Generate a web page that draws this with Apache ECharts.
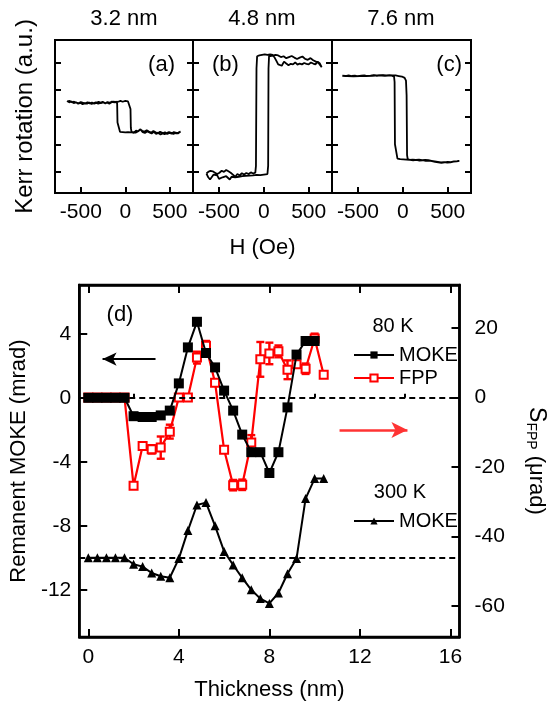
<!DOCTYPE html>
<html>
<head>
<meta charset="utf-8">
<script src="https://cdn.jsdelivr.net/npm/echarts@6/dist/echarts.min.js"></script>
<style>html,body{margin:0;padding:0;background:#fff}#main{width:556px;height:709px}</style>
</head>
<body>
<div id="main"></div>
<script>
var FONT = 'Liberation Sans, Arial, Helvetica, sans-serif';

// ---- top row: hysteresis loops, H (Oe) vs Kerr rotation (a.u.)
var loopTitles = ['3.2 nm', '4.8 nm', '7.6 nm'];
var loopLabels = ['(a)', '(b)', '(c)'];
var hTicks = [-500, 0, 500];
var kerrTicks = [0, 1, 2, 3, 4];

var loopA = [
  [-655,2.6],[-630,2.55],[-605,2.58],[-580,2.52],[-555,2.55],[-530,2.5],[-505,2.53],[-480,2.48],[-455,2.52],[-430,2.5],
  [-405,2.54],[-380,2.49],[-355,2.52],[-330,2.55],[-305,2.5],[-280,2.53],[-255,2.57],[-230,2.52],[-205,2.54],[-180,2.5],
  [-155,2.55],[-130,2.58],[-105,2.55],[-80,2.57],[-55,2.6],[-30,2.57],[0,2.6],[30,2.58],[50,2.56],[58,2.3],[62,1.6],
  [70,1.45],[95,1.42],[120,1.5],[145,1.48],[170,1.55],[195,1.45],[220,1.42],[245,1.47],[270,1.44],[295,1.4],[320,1.46],
  [345,1.38],[370,1.43],[395,1.36],[420,1.4],[445,1.44],[470,1.38],[495,1.42],[520,1.39],[545,1.45],[570,1.4],[595,1.43],
  [620,1.47],[640,1.41],
  [615,1.44],[590,1.4],[565,1.43],[540,1.38],[515,1.42],[490,1.45],[465,1.41],[440,1.37],[415,1.42],[390,1.46],[365,1.4],
  [340,1.44],[315,1.49],[290,1.43],[265,1.47],[240,1.52],[215,1.46],[190,1.5],[165,1.55],[140,1.47],[115,1.43],[90,1.45],
  [60,1.44],[30,1.45],[0,1.44],[-30,1.45],[-60,1.46],[-80,1.5],[-88,1.8],[-92,2.5],[-100,2.58],[-125,2.55],[-150,2.58],
  [-175,2.53],[-200,2.56],[-225,2.51],[-250,2.55],[-275,2.52],[-300,2.57],[-325,2.53],[-350,2.5],[-375,2.54],[-400,2.51],
  [-425,2.55],[-450,2.5],[-475,2.53],[-500,2.56],[-525,2.51],[-550,2.54],[-575,2.57],[-600,2.55],[-625,2.6],[-650,2.58]
];
var loopB = [
  [-640,-0.08],[-620,-0.22],[-600,-0.3],[-580,-0.25],[-560,-0.12],[-540,-0.05],[-520,-0.15],[-500,-0.28],[-480,-0.33],
  [-460,-0.22],[-440,-0.15],[-420,-0.18],[-400,-0.25],[-380,-0.3],[-360,-0.2],[-340,-0.18],[-320,-0.22],[-300,-0.17],
  [-280,-0.2],[-260,-0.15],[-240,-0.18],[-220,-0.14],[-200,-0.17],[-180,-0.13],[-160,-0.16],[-140,-0.12],[-120,-0.15],
  [-100,-0.11],[-80,-0.13],[-60,-0.1],[-40,-0.14],[-20,-0.1],[0,-0.12],[20,-0.08],[40,-0.1],[48,0.2],[52,3.8],[58,4.25],
  [80,4.3],[100,4.27],[130,4.3],[160,4.28],[190,4.22],[220,4.25],[250,4.18],[280,4.22],[310,4.26],[340,4.2],[370,4.15],
  [400,4.2],[430,4.24],[460,4.15],[490,4.12],[520,4.18],[550,4.1],[580,4.05],[610,4.0],[630,3.95],[645,3.85],
  [625,3.98],[600,4.05],[575,3.95],[550,3.98],[525,4.02],[500,3.95],[475,3.97],[450,4.0],[425,3.95],[400,3.98],[375,3.94],
  [350,4.02],[325,3.95],[300,3.97],[275,3.92],[250,3.98],[225,4.05],[200,3.9],[180,3.85],[160,3.95],[140,4.08],[120,4.2],
  [100,4.3],[70,4.32],[40,4.3],[10,4.32],[-20,4.3],[-50,4.28],[-75,4.25],[-82,3.8],[-88,0.2],[-95,-0.05],[-120,-0.08],
  [-145,-0.04],[-170,-0.1],[-195,-0.06],[-220,-0.12],[-245,-0.07],[-270,-0.15],[-295,-0.1],[-320,-0.2],[-345,-0.12],
  [-370,-0.05],[-395,0.0],[-420,0.05],[-445,-0.02],[-470,0.02],[-495,-0.05],[-520,-0.1],[-545,-0.05],[-570,0.0],
  [-595,0.02],[-620,-0.02],[-640,-0.08]
];
var loopC = [
  [-675,3.53],[-640,3.52],[-605,3.54],[-570,3.52],[-535,3.53],[-500,3.51],[-465,3.53],[-430,3.54],[-395,3.52],[-360,3.53],
  [-325,3.55],[-290,3.53],[-255,3.54],[-220,3.55],[-185,3.54],[-150,3.55],[-115,3.54],[-80,3.54],[-45,3.52],[-10,3.5],
  [20,3.45],[35,3.35],[42,2.8],[47,0.6],[55,0.44],[80,0.42],[115,0.41],[150,0.42],[185,0.4],[220,0.41],[255,0.39],
  [290,0.4],[325,0.38],[360,0.35],[395,0.33],[430,0.31],[465,0.33],[500,0.35],[535,0.34],[570,0.37],[605,0.38],[630,0.39],
  [600,0.37],[565,0.36],[530,0.33],[495,0.32],[460,0.34],[425,0.33],[390,0.35],[355,0.37],[320,0.39],[285,0.41],[250,0.42],
  [215,0.41],[180,0.43],[145,0.42],[110,0.43],[75,0.42],[40,0.43],[5,0.44],[-30,0.45],[-60,0.47],[-80,0.52],[-88,1.0],
  [-92,3.3],[-98,3.5],[-130,3.54],[-200,3.53],[-270,3.54],[-340,3.53],[-410,3.52],[-480,3.52],[-550,3.51],[-620,3.52],[-670,3.52]
];

// ---- bottom panel (d): remanent MOKE / FPP signal vs thickness
var thickness = [0,0.4,0.8,1.2,1.6,2.0,2.4,2.8,3.2,3.6,4.0,4.4,4.8,5.2,5.6,6.0,6.4,6.8,7.2,7.6,8.0,8.4,8.8,9.2,9.6,10.0,10.4];
var moke80 = [0,0,0,0,0,-1.15,-1.2,-1.2,-1.1,-0.8,0.9,3.15,4.75,2.8,1.9,0.45,-0.8,-2.3,-3.4,-3.4,-4.7,-3.4,-0.6,2.7,3.55,3.55];
var fpp80 = [0,0,0,0,0,-25.4,-13.9,-14.9,-14.4,-9.8,0,0,11.5,14.9,4.3,-15.0,-25.2,-25.1,-12.9,11.0,12.7,13.3,8.0,9.6,8.3,17.0,6.6];
var fppErr = [0,0,0,0,0,0.8,0.8,1.2,3.2,2.0,0.6,0.6,1.7,1.4,0.7,0.8,1.5,1.5,2.1,5.0,3.1,1.7,2.7,0.8,1.5,1.4,0.6];
var moke300 = [-10,-10,-10,-10,-10,-10.4,-10.55,-10.95,-11.15,-11.25,-10.05,-8.3,-6.7,-6.55,-8.0,-9.6,-10.45,-11.25,-12.0,-12.55,-12.85,-12.2,-11.0,-10.05,-6.3,-5.05,-5.05];
var thickTicks = [0, 4, 8, 12, 16];
var thickMinor = [2, 6, 10, 14];
var mokeTicks = [-12, -8, -4, 0, 4];
var fppTicks = [-60, -40, -20, 0, 20];
var zeroLines = [0, -10];
var arrowMoke = [[2.97, 2.42], [0.63, 2.42]];
var arrowFpp = [[11.1, -2.02], [14.1, -2.02]];

var chart = echarts.init(document.getElementById('main'));

var panelLeft = [55, 193, 332];
var panelWidth = [138, 139, 139];
var loops = [loopA, loopB, loopC];

var grids = [], xAxes = [], yAxes = [], series = [];
var frameAxis = { onZero: false, lineStyle: { color: '#000', width: 2 } };

loops.forEach(function (loop, i) {
  grids.push({ left: panelLeft[i], top: 40, width: panelWidth[i], height: 153, show: true, borderColor: '#000', borderWidth: 2 });
  xAxes.push({
    gridIndex: i, type: 'value', min: -790, max: 760, position: 'bottom',
    axisLine: frameAxis, splitLine: { show: false },
    axisTick: { inside: true, length: 6, customValues: hTicks, lineStyle: { color: '#000', width: 2 } },
    axisLabel: { customValues: hTicks, fontSize: 21, fontFamily: FONT, color: '#000', margin: 9 },
    name: i === 1 ? 'H (Oe)' : '', nameLocation: 'middle', nameGap: 44,
    nameTextStyle: { fontSize: 22, fontFamily: FONT, color: '#000' }
  });
  ['left', 'right'].forEach(function (pos) {
    yAxes.push({
      gridIndex: i, type: 'value', min: -0.8, max: 4.85, position: pos,
      axisLine: frameAxis, splitLine: { show: false },
      axisTick: { inside: true, length: 6, customValues: kerrTicks, lineStyle: { color: '#000', width: 2 } },
      axisLabel: { show: false, customValues: kerrTicks },
      name: (i === 0 && pos === 'left') ? 'Kerr rotation (a.u.)' : '',
      nameLocation: 'middle', nameRotate: 90, nameGap: 18,
      nameTextStyle: { fontSize: 24, fontFamily: FONT, color: '#000' }
    });
  });
  series.push({
    type: 'line', xAxisIndex: i, yAxisIndex: 2 * i, data: loop, showSymbol: false,
    lineStyle: { color: '#000', width: 1.8 }, silent: true, animation: false
  });
});

// bottom grid
grids.push({ left: 79, top: 285, width: 389, height: 352, show: true, borderColor: '#000', borderWidth: 2.5 });
var tickStyle = { color: '#000', width: 2 };
xAxes.push({
  gridIndex: 3, type: 'value', min: -0.4, max: 16.4, position: 'bottom',
  axisLine: { onZero: false, lineStyle: { color: '#000', width: 2.5 } }, splitLine: { show: false },
  axisTick: { inside: true, length: 8, customValues: thickTicks, lineStyle: tickStyle },
  axisLabel: { customValues: thickTicks, fontSize: 21, fontFamily: FONT, color: '#000', margin: 10 },
  name: 'Thickness (nm)', nameLocation: 'middle', nameGap: 42,
  nameTextStyle: { fontSize: 22, fontFamily: FONT, color: '#000' }
});
xAxes.push({
  gridIndex: 3, type: 'value', min: -0.4, max: 16.4, position: 'bottom',
  axisLine: { show: false }, splitLine: { show: false },
  axisTick: { inside: true, length: 4, customValues: thickMinor, lineStyle: tickStyle },
  axisLabel: { show: false, customValues: thickMinor }
});
xAxes.push({
  gridIndex: 3, type: 'value', min: -0.4, max: 16.4, position: 'top',
  axisLine: { onZero: false, lineStyle: { color: '#000', width: 2.5 } }, splitLine: { show: false },
  axisTick: { inside: true, length: 8, customValues: thickTicks, lineStyle: tickStyle },
  axisLabel: { show: false, customValues: thickTicks }
});
yAxes.push({
  gridIndex: 3, type: 'value', min: -14.95, max: 7.05, position: 'left',
  axisLine: { onZero: false, lineStyle: { color: '#000', width: 2.5 } }, splitLine: { show: false },
  axisTick: { inside: true, length: 8, customValues: mokeTicks, lineStyle: tickStyle },
  axisLabel: { customValues: mokeTicks, fontSize: 21, fontFamily: FONT, color: '#000', margin: 8 },
  name: 'Remanent MOKE (mrad)', nameLocation: 'middle', nameRotate: 90, nameGap: 45,
  nameTextStyle: { fontSize: 22, fontFamily: FONT, color: '#000' }
});
yAxes.push({
  gridIndex: 3, type: 'value', min: -68.9, max: 32.4, position: 'right',
  axisLine: { onZero: false, lineStyle: { color: '#000', width: 2.5 } }, splitLine: { show: false },
  axisTick: { inside: true, length: 8, customValues: fppTicks, lineStyle: tickStyle },
  axisLabel: { customValues: fppTicks, fontSize: 21, fontFamily: FONT, color: '#000', margin: 15 },
  name: '{s|S}{sub|FPP} (μrad)', nameLocation: 'middle', nameRotate: -90, nameGap: 64,
  nameTextStyle: {
    fontSize: 22, fontFamily: FONT, color: '#000',
    rich: {
      s: { fontSize: 23, fontFamily: FONT, color: '#000', lineHeight: 26 },
      sub: { fontSize: 14, fontFamily: FONT, color: '#000', lineHeight: 14, verticalAlign: 'bottom', padding: [10, 0, 0, 0] }
    }
  }
});

var errData = [];
thickness.forEach(function (t, i) {
  if (fppErr[i] > 0) errData.push([t, fpp80[i] - fppErr[i], fpp80[i] + fppErr[i]]);
});

series.push({
  type: 'custom', xAxisIndex: 3, yAxisIndex: 7, data: errData, silent: true, z: 1,
  encode: { x: 0, y: [1, 2] },
  renderItem: function (params, api) {
    var lo = api.coord([api.value(0), api.value(1)]);
    var hi = api.coord([api.value(0), api.value(2)]);
    var w = 4, st = { stroke: '#f00', lineWidth: 2.4, fill: null };
    return { type: 'group', children: [
      { type: 'line', shape: { x1: lo[0], y1: lo[1], x2: hi[0], y2: hi[1] }, style: st },
      { type: 'line', shape: { x1: lo[0] - w, y1: lo[1], x2: lo[0] + w, y2: lo[1] }, style: st },
      { type: 'line', shape: { x1: hi[0] - w, y1: hi[1], x2: hi[0] + w, y2: hi[1] }, style: st }
    ] };
  }
});
series.push({
  name: 'FPP', type: 'line', xAxisIndex: 3, yAxisIndex: 7, z: 2,
  data: thickness.map(function (t, i) { return [t, fpp80[i]]; }),
  symbol: 'emptyRect', symbolSize: 8, color: '#f00',
  itemStyle: { color: '#f00', borderColor: '#f00', borderWidth: 2 },
  lineStyle: { color: '#f00', width: 2.2 }
});
series.push({
  name: 'MOKE', type: 'line', xAxisIndex: 3, yAxisIndex: 6, z: 10,
  data: moke80.map(function (v, i) { return [thickness[i], v]; }),
  symbol: 'rect', symbolSize: 10, color: '#000',
  itemStyle: { color: '#000' }, lineStyle: { color: '#000', width: 2 },
  markLine: {
    silent: true, symbol: ['none', 'none'], label: { show: false }, animation: false,
    lineStyle: { color: '#000', type: [6, 4], width: 1.8 },
    data: zeroLines.map(function (v) { return { yAxis: v }; }).concat([
      [{ coord: arrowMoke[0], lineStyle: { type: 'solid', width: 2, color: '#000' } },
       { coord: arrowMoke[1], symbol: 'arrow', symbolSize: [10, 14] }],
      [{ coord: arrowFpp[0], lineStyle: { type: 'solid', width: 2.5, color: '#f33' } },
       { coord: arrowFpp[1], symbol: 'arrow', symbolSize: [12, 16] }]
    ])
  }
});
series.push({
  name: 'MOKE ', type: 'line', xAxisIndex: 3, yAxisIndex: 6, z: 10,
  data: moke300.map(function (v, i) { return [thickness[i], v]; }),
  symbol: 'triangle', symbolSize: 9, color: '#000',
  itemStyle: { color: '#000' }, lineStyle: { color: '#000', width: 2 }
});

var txt = function (x, y, s, align, size) {
  return { type: 'text', x: x, y: y, silent: true,
    style: { text: s, fontSize: size || 22, fontFamily: FONT, fill: '#000', align: align || 'center', verticalAlign: 'middle' } };
};
var graphics = [
  txt(124, 19, loopTitles[0]), txt(262, 19, loopTitles[1]), txt(401, 19, loopTitles[2]),
  txt(175, 65, loopLabels[0], 'right'), txt(212, 65, loopLabels[1], 'left'), txt(462, 65, loopLabels[2], 'right'),
  txt(120, 315, '(d)'), txt(393, 326, '80 K', 'center', 20), txt(400, 492, '300 K', 'center', 20)
];

var legendText = { fontSize: 20, fontFamily: FONT, color: '#000' };
var option = {
  backgroundColor: '#fff',
  animation: false,
  grid: grids,
  xAxis: xAxes,
  yAxis: yAxes,
  legend: [
    { data: ['MOKE', 'FPP'], left: 348, top: 340, orient: 'vertical', itemWidth: 40, itemHeight: 9, itemGap: 3,
      selectedMode: false, textStyle: legendText },
    { data: ['MOKE '], left: 348, top: 506, orient: 'vertical', itemWidth: 40, itemHeight: 9,
      selectedMode: false, textStyle: legendText }
  ],
  graphic: graphics,
  series: series
};
chart.setOption(option);
</script>
</body>
</html>
